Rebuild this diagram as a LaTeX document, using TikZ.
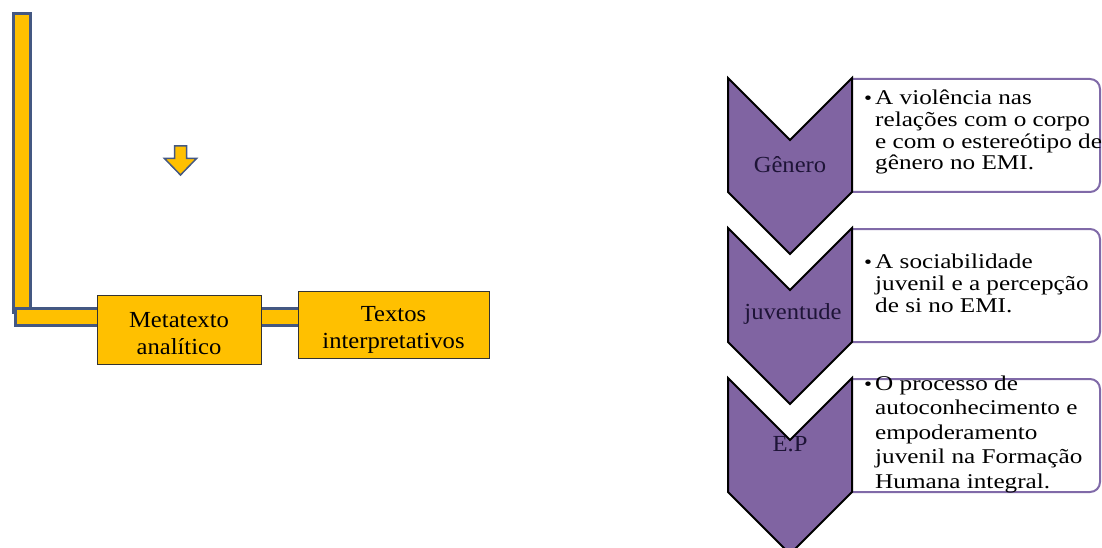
\documentclass[tikz,border=0pt]{standalone}
\usepackage{fontspec}
\setmainfont{Liberation Serif}
\newfontfamily\leftserif[FakeStretch=1.07]{Liberation Serif}
\newfontfamily\rightserif[FakeStretch=1.2]{Liberation Serif}
\definecolor{barYellow}{HTML}{FFC000}
\definecolor{barBlue}{RGB}{68,88,130}
\definecolor{chevPurple}{HTML}{8064A2}
\definecolor{boxLine}{RGB}{128,106,168}
\definecolor{chevText}{RGB}{30,20,55}
\begin{document}
\begin{tikzpicture}[x=1pt,y=-1pt,
  ybox/.style={draw=black!80, line width=1pt, fill=barYellow, inner sep=0pt},
  ytext/.style={inner sep=0pt, anchor=base, align=center,
    font=\leftserif\fontsize{23}{27}\selectfont},
  barpart/.style={fill=barYellow, draw=barBlue, line width=3pt},
  chev/.style={fill=chevPurple, draw=black, line width=2pt, line join=miter},
  chevlabel/.style={inner sep=0pt, anchor=base, text=chevText, font=\leftserif\fontsize{23}{25}\selectfont},
  listbox/.style={draw=boxLine, line width=2pt, rounded corners=10pt},
  bullettext/.style={inner sep=0pt, anchor=base west, align=left},
  bulletmark/.style={inner sep=0pt, anchor=base west, font=\rightserif\fontsize{19}{21.5}\selectfont}
]
\useasboundingbox (0,0) rectangle (1102,548);

% ---- left part: L-shaped bar ----
\path[barpart] (13.5,14) rectangle (30.5,312);
\path[barpart] (15,308.5) rectangle (300,325.5);

% boxes on the bar
\node[ybox, minimum width=164pt, minimum height=69pt] (meta) at (179,329.5) {};
\node[ytext] (metatxt) at (179,354) {Metatexto\\analítico};
\node[ybox, minimum width=191pt, minimum height=67pt] (textos) at (393.5,324.5) {};
\node[ytext] (textostxt) at (393.5,348) {Textos\\interpretativos};

% down arrow
\path[fill=barYellow, draw=barBlue, line width=1.5pt, line join=miter]
  (174.5,146) -- (186.5,146) -- (186.5,158.5) -- (196.5,158.5) -- (180.5,175) -- (164.5,158.5) -- (174.5,158.5) -- cycle;

% ---- right part: vertical chevron list ----
\foreach \t in {79,229,379}{
  \draw[listbox] (852,\t) -- (1100,\t) -- (1100,\t+113) -- (852,\t+113);
}
\foreach \t in {78,228,378}{
  \path[chev] (728,\t) -- (790,\t+62) -- (852,\t) -- (852,\t+114) -- (790,\t+176) -- (728,\t+114) -- cycle;
}

\node[chevlabel] (gen) at (790,173) {Gênero};
\node[chevlabel] (juv) at (793,319) {juventude};
\node[chevlabel] (ep) at (790,451) {E.P};

\node[bulletmark] (b1) at (864,105) {•};
\node[bullettext, font=\rightserif\fontsize{21}{21.7}\selectfont] (t1) at (875,170)
  {A violência nas\\relações com o corpo\\e com o estereótipo de\\gênero no EMI.};

\node[bulletmark] (b2) at (864,268) {•};
\node[bullettext, font=\rightserif\fontsize{21}{22}\selectfont] (t2) at (875,312)
  {A sociabilidade\\juvenil e a percepção\\de si no EMI.};

\node[bulletmark] (b3) at (864,390) {•};
\node[bullettext, font=\rightserif\fontsize{21}{24.5}\selectfont] (t3) at (875,488)
  {O processo de\\autoconhecimento e\\empoderamento\\juvenil na Formação\\Humana integral.};
\end{tikzpicture}
\end{document}
